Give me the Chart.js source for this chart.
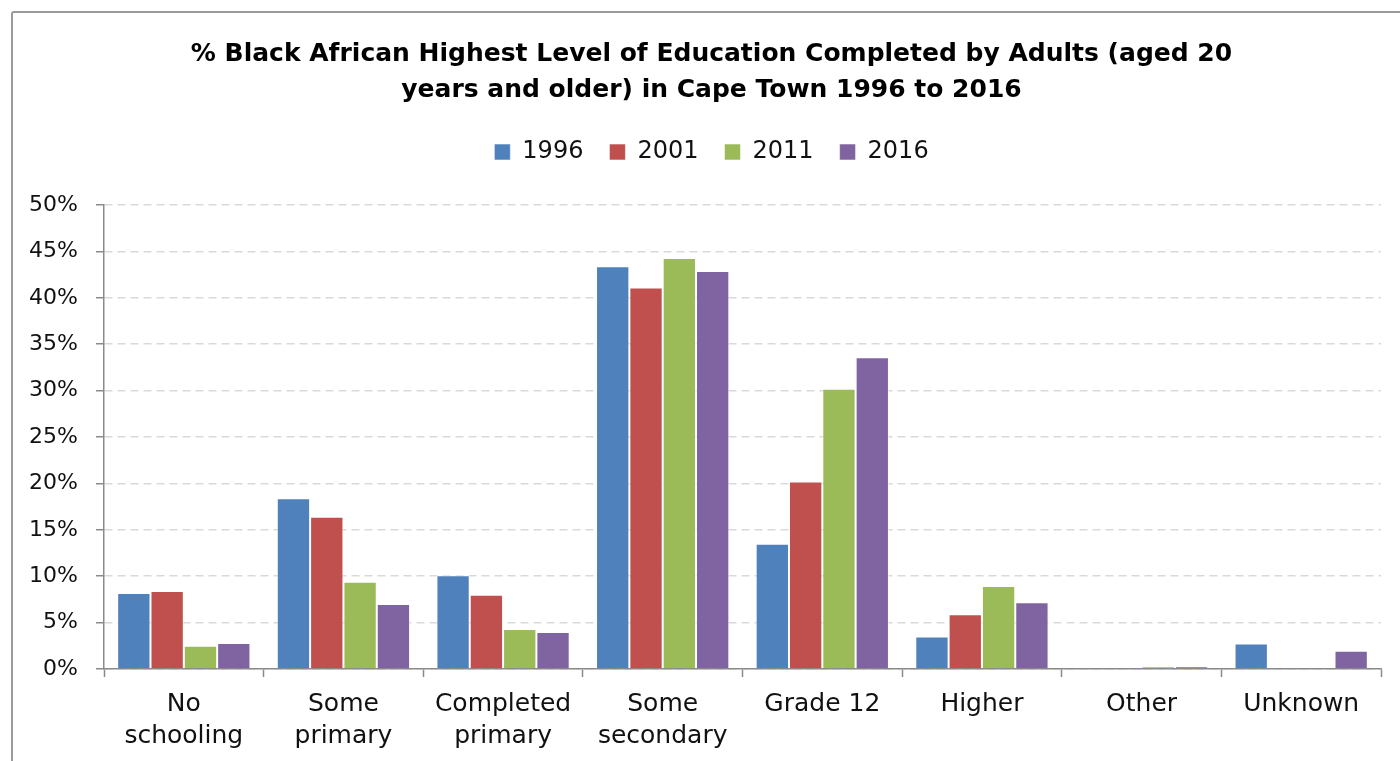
<!DOCTYPE html>
<html lang="en">
<head>
  <meta charset="UTF-8" />
  <title>Black African Highest Level of Education, Cape Town 1996-2016</title>
  <script src="https://cdn.jsdelivr.net/npm/chart.js"></script>
  <style>
    body {
      margin: 0;
      background: #fff;
      overflow: hidden;
    }

    .frame {
      position: absolute;
      left: 11px;
      top: 11px;
      width: 1420px;
      height: 800px;
      border: 2px solid #9a9a9a;
      border-radius: 3px;
    }

    .wrap {
      position: absolute;
      left: 0;
      top: 0;
      width: 1400px;
      height: 761px;
    }
  </style>
</head>
<body>
  <div class="frame"></div>
  <div class="wrap">
    <canvas id="eduChart" width="1400" height="761"></canvas>
  </div>

  <script>
    // Education levels (x axis)
    const categories = [
      ['No', 'schooling'],
      ['Some', 'primary'],
      ['Completed', 'primary'],
      ['Some', 'secondary'],
      'Grade 12',
      'Higher',
      'Other',
      'Unknown'
    ];

    // Share of adults (%) per census year
    const values1996 = [8.2, 18.4, 10.1, 43.4, 13.5, 3.5, 0, 2.75];
    const values2001 = [8.4, 16.4, 8.0, 41.1, 20.2, 5.9, 0, 0];
    const values2011 = [2.5, 9.4, 4.3, 44.3, 30.2, 8.95, 0.3, 0];
    const values2016 = [2.8, 7.0, 4.0, 42.9, 33.6, 7.2, 0.3, 1.97];

    const yTicks = [0, 5, 10, 15, 20, 25, 30, 35, 40, 45, 50];

    const seriesColors = ['#4F81BD', '#C0504D', '#9BBB59', '#8064A2'];
    const axisGray = '#8a8a8a';
    const font = 'DejaVu Sans';

    // pushes the plot area down below the legend
    const legendSpacer = {
      id: 'legendSpacer',
      beforeInit(chart) {
        const fit = chart.legend.fit;
        chart.legend.fit = function () {
          fit.bind(chart.legend)();
          this.height += 31;
        };
      },
      // centre title and legend on the whole frame, not the plot box
      afterLayout(chart) {
        [chart.titleBlock, chart.legend].forEach(box => {
          box.left += 21;
          box.right += 21;
        });
      }
    };

    function makeSet(label, data, color) {
      return {
        label: label,
        data: data,
        backgroundColor: color,
        borderColor: 'rgba(255,255,255,0.55)',
        borderWidth: 1,
        categoryPercentage: 0.835,
        barPercentage: 1.0
      };
    }

    const ctx = document.getElementById('eduChart').getContext('2d');
    new Chart(ctx, {
      type: 'bar',
      data: {
        labels: categories,
        datasets: [
          makeSet('1996', values1996, seriesColors[0]),
          makeSet('2001', values2001, seriesColors[1]),
          makeSet('2011', values2011, seriesColors[2]),
          makeSet('2016', values2016, seriesColors[3])
        ]
      },
      options: {
        responsive: false,
        animation: false,
        layout: { padding: { left: 0, right: 19, top: 0, bottom: 0 } },
        scales: {
          x: {
            afterFit(scale) { scale.height = 92; },
            grid: {
              offset: true,
              drawOnChartArea: false,
              drawTicks: true,
              tickLength: 8,
              tickColor: axisGray,
              tickWidth: 1.5
            },
            border: { display: true, color: axisGray, width: 1.5 },
            ticks: {
              color: '#111',
              padding: 11,
              maxRotation: 0,
              autoSkip: false,
              font: { family: font, size: 25, lineHeight: 1.28 }
            }
          },
          y: {
            min: 0,
            max: 50,
            afterFit(scale) { scale.width = 104; },
            afterBuildTicks(scale) {
              scale.ticks = yTicks.map(v => ({ value: v }));
            },
            grid: {
              color: '#d9d9d9',
              lineWidth: 1.5,
              tickLength: 8,
              tickColor: axisGray,
              tickWidth: 1.5
            },
            border: { display: true, color: axisGray, width: 1.5, dash: [8, 5] },
            ticks: {
              color: '#111',
              padding: 18,
              font: { family: font, size: 22 },
              callback: v => v + '%'
            }
          }
        },
        plugins: {
          title: {
            display: true,
            text: [
              '% Black African Highest Level of Education Completed by Adults (aged 20',
              'years and older) in Cape Town 1996 to 2016'
            ],
            color: '#000',
            font: { family: font, size: 25, weight: 'bold', lineHeight: 1.44 },
            padding: { top: 36, bottom: 6 }
          },
          legend: {
            position: 'top',
            labels: {
              color: '#111',
              boxWidth: 16,
              boxHeight: 16,
              padding: 26,
              font: { family: font, size: 24 }
            }
          },
          tooltip: { enabled: false }
        }
      },
      plugins: [legendSpacer]
    });
  </script>
</body>
</html>
